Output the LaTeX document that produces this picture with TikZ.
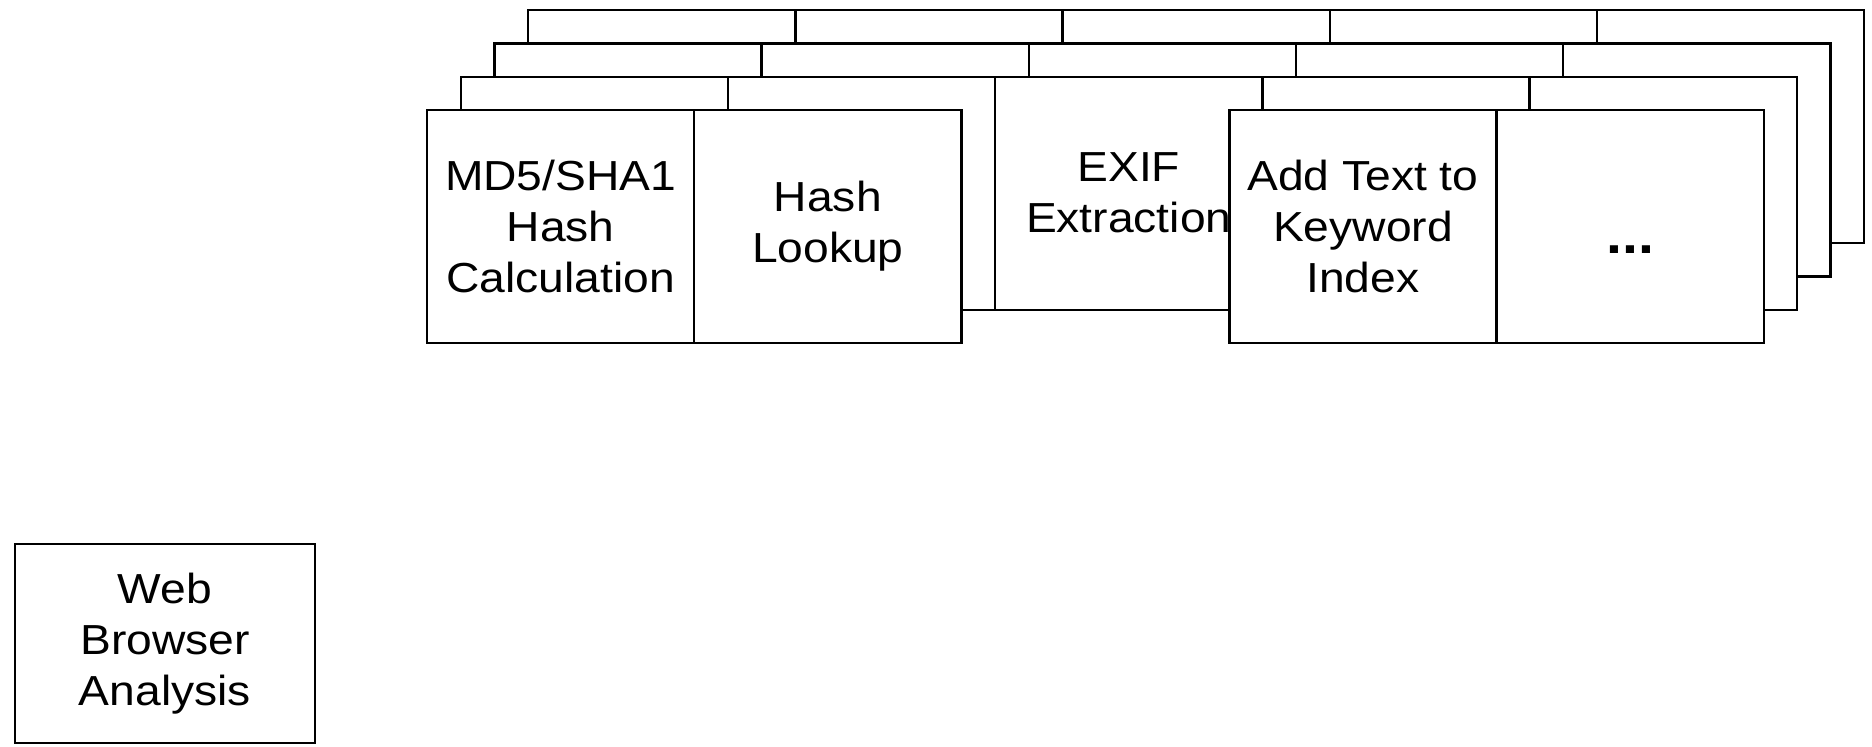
\documentclass[tikz,border=0pt]{standalone}
\usepackage{fontspec}
\setmainfont{Liberation Sans}[FakeStretch=1.1]
\begin{document}
\begin{tikzpicture}[x=0.5pt,y=-0.5pt,
  cell/.style={draw, line width=1.2pt, fill=white, minimum width=133.6pt,
    minimum height=116.5pt, inner sep=0pt, outer sep=0pt},
  txt/.style={align=center, font=\fontsize{21}{25.5}\selectfont}]
\useasboundingbox (0,0) rectangle (1872,746);
% stacked layers behind the front row, drawn from the back forwards
\foreach \k in {3,2,1}{
  \foreach \i in {0,...,4}{
    \pgfmathsetmacro{\cx}{560.6+\i*267.2+\k*33.7}
    \pgfmathsetmacro{\cy}{226.5-\k*33.3}
    \node[cell] (L\k-\i) at (\cx,\cy) {};
  }
}
\node[txt] (exif) at (L1-2) {EXIF\\Extraction};
% front row (third slot left open)
\node[cell,txt] (md5)  at (560.6,226.5)  {MD5/SHA1\\Hash\\Calculation};
\node[cell,txt] (look) at (827.8,226.5)  {Hash\\Lookup};
\node[cell,txt] (kw)   at (1362.9,226.5) {Add Text to\\Keyword\\Index};
\node[cell]     (more) at (1630.1,226.5) {};
\node[anchor=base, inner sep=0pt, font=\fontsize{26}{30}\selectfont\bfseries]
  (dots) at (1630.1,253) {...};
% stand-alone module
\node[cell,txt, minimum width=150pt, minimum height=99.5pt] (web) at (165,643.5)
  {Web\\Browser\\Analysis};
\end{tikzpicture}
\end{document}
